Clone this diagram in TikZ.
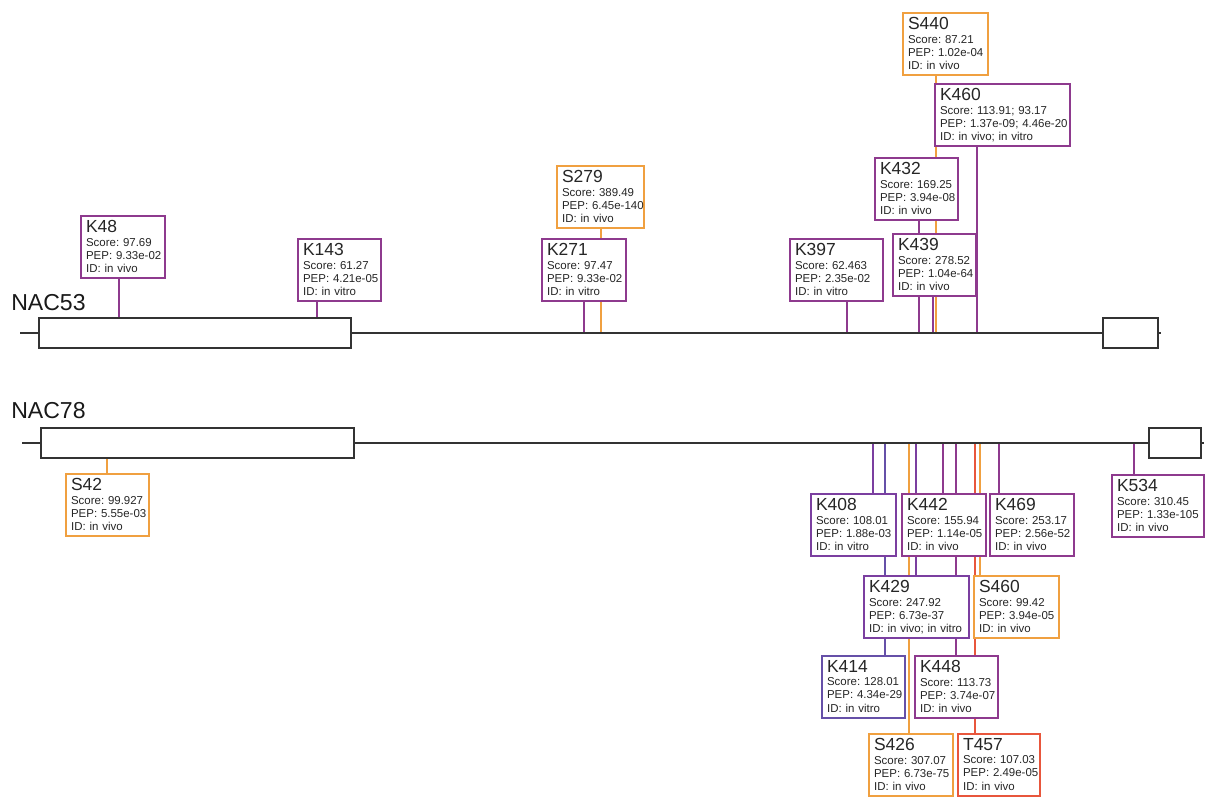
\documentclass[tikz,border=0pt]{standalone}
\usepackage{fontspec}
\setmainfont{Liberation Sans}
\frenchspacing
\pgfdeclarelayer{bg}
\pgfsetlayers{bg,main}
\definecolor{pur}{HTML}{8E3A8E}
\definecolor{vio}{HTML}{7B3FA0}
\definecolor{blu}{HTML}{6650A8}
\definecolor{org}{HTML}{F0A040}
\definecolor{rdl}{HTML}{E8563C}
\definecolor{bb}{HTML}{333333}
\newcommand{\sitetext}[4]{\mbox{\fontsize{13.1}{14}\selectfont #1}\\[0.6pt]\mbox{Score: #2}\\\mbox{PEP: #3}\\\mbox{ID: #4}\rule[-1.7pt]{0pt}{0pt}}
\tikzset{
  site/.style={draw=#1, line width=1.5pt, fill=white, anchor=north west, align=left,
    inner xsep=3.8pt, inner ysep=3pt, font=\fontsize{8.6}{9.8}\selectfont\frenchspacing, text=black!85},
  con/.style={draw=#1, line width=1.4pt},
  exon/.style={draw=bb, line width=1.5pt, fill=white, inner sep=0pt},
  bbone/.style={draw=bb, line width=1.5pt},
  genelabel/.style={anchor=base west, inner sep=0pt, font=\fontsize{17.3}{19}\selectfont, text=black!90}
}
\begin{document}
\begin{tikzpicture}[x=0.75pt,y=-0.75pt]
\useasboundingbox (0,0) rectangle (1206,798);
% ---------------- NAC53 ----------------
\node[genelabel] (lab53) at (11,311) {NAC53};
\coordinate (s53) at (20,333);
\coordinate (e53) at (1161,333);
\node[exon, minimum width=234pt, minimum height=22.5pt] (x53a) at (195,333) {};
\node[exon, minimum width=41.25pt, minimum height=22.5pt] (x53b) at (1130.5,333) {};
\draw[bbone] (s53) -- (x53a.west) (x53a.east) -- (x53b.west) (x53b.east) -- (e53);

\node[site=pur, text width=55.4pt] (K48) at (80,215) {\sitetext{K48}{97.69}{9.33e-02}{in vivo}};
\node[site=pur, text width=54.65pt] (K143) at (297,238) {\sitetext{K143}{61.27}{4.21e-05}{in vitro}};
\node[site=org, text width=57.65pt] (S279) at (556,165) {\sitetext{S279}{389.49}{6.45e-140}{in vivo}};
\node[site=pur, text width=55.4pt] (K271) at (541,238) {\sitetext{K271}{97.47}{9.33e-02}{in vitro}};
\node[site=pur, text width=62.15pt] (K397) at (789,238) {\sitetext{K397}{62.463}{2.35e-02}{in vitro}};
\node[site=org, text width=56.15pt] (S440) at (902,12) {\sitetext{S440}{87.21}{1.02e-04}{in vivo}};
\node[site=pur, text width=93.65pt] (K460) at (934,83) {\sitetext{K460}{113.91; 93.17}{1.37e-09; 4.46e-20}{in vivo; in vitro}};
\node[site=pur, text width=54.65pt] (K432) at (874,157) {\sitetext{K432}{169.25}{3.94e-08}{in vivo}};
\node[site=pur, text width=54.65pt] (K439) at (892,233) {\sitetext{K439}{278.52}{1.04e-64}{in vivo}};

\coordinate (c48) at (119,333);
\coordinate (c143) at (317,333);
\coordinate (c271) at (584,333);
\coordinate (c279) at (601,333);
\coordinate (c397) at (847,333);
\coordinate (c432) at (919,333);
\coordinate (c439) at (933,333);
\coordinate (c440) at (936,333);
\coordinate (c460) at (977,333);

% ---------------- NAC78 ----------------
\node[genelabel] (lab78) at (11,418) {NAC78};
\coordinate (s78) at (22,443);
\coordinate (e78) at (1204,443);
\node[exon, minimum width=234.75pt, minimum height=22.5pt] (x78a) at (197.5,443) {};
\node[exon, minimum width=39pt, minimum height=22.5pt] (x78b) at (1175,443) {};
\draw[bbone] (s78) -- (x78a.west) (x78a.east) -- (x78b.west) (x78b.east) -- (e78);

\node[site=org, text width=54.65pt] (S42) at (65,473) {\sitetext{S42}{99.927}{5.55e-03}{in vivo}};
\node[site=pur, text width=61.4pt] (K534) at (1111,474) {\sitetext{K534}{310.45}{1.33e-105}{in vivo}};
\node[site=vio, text width=56.15pt] (K408) at (810,493) {\sitetext{K408}{108.01}{1.88e-03}{in vitro}};
\node[site=pur, text width=55.4pt] (K442) at (901,493) {\sitetext{K442}{155.94}{1.14e-05}{in vivo}};
\node[site=pur, text width=55.4pt] (K469) at (989,493) {\sitetext{K469}{253.17}{2.56e-52}{in vivo}};
\node[site=vio, text width=71.15pt] (K429) at (863,575) {\sitetext{K429}{247.92}{6.73e-37}{in vivo; in vitro}};
\node[site=org, text width=56.15pt] (S460) at (973,575) {\sitetext{S460}{99.42}{3.94e-05}{in vivo}};
\node[site=blu, text width=54.65pt] (K414) at (821,655) {\sitetext{K414}{128.01}{4.34e-29}{in vitro}};
\node[site=pur, text width=54.65pt] (K448) at (914,655) {\sitetext{K448}{113.73}{3.74e-07}{in vivo}};
\node[site=org, text width=55.4pt] (S426) at (868,733) {\sitetext{S426}{307.07}{6.73e-75}{in vivo}};
\node[site=rdl, text width=53.9pt] (T457) at (957,733) {\sitetext{T457}{107.03}{2.49e-05}{in vivo}};

\coordinate (c42) at (107,443);
\coordinate (c534) at (1134,443);
\coordinate (c408) at (873,443);
\coordinate (c414) at (885,443);
\coordinate (c426) at (909,443);
\coordinate (c429) at (916,443);
\coordinate (c442) at (943,443);
\coordinate (c448) at (956,443);
\coordinate (c457) at (975,443);
\coordinate (c460b) at (980,443);
\coordinate (c469) at (999,443);

\begin{pgfonlayer}{bg}
  \draw[con=pur] (K48.south -| c48) -- (c48);
  \draw[con=pur] (K143.south -| c143) -- (c143);
  \draw[con=pur] (K271.south -| c271) -- (c271);
  \draw[con=org] (S279.south -| c279) -- (c279);
  \draw[con=pur] (K397.south -| c397) -- (c397);
  \draw[con=pur] (K432.south -| c432) -- (c432);
  \draw[con=pur] (K439.south -| c439) -- (c439);
  \draw[con=org] (S440.south -| c440) -- (c440);
  \draw[con=pur] (K460.south -| c460) -- (c460);

  \draw[con=org] (c42) -- (S42.north -| c42);
  \draw[con=pur] (c534) -- (K534.north -| c534);
  \draw[con=vio] (c408) -- (K408.north -| c408);
  \draw[con=blu] (c414) -- (K414.north -| c414);
  \draw[con=org] (c426) -- (S426.north -| c426);
  \draw[con=vio] (c429) -- (K429.north -| c429);
  \draw[con=pur] (c442) -- (K442.north -| c442);
  \draw[con=pur] (c448) -- (K448.north -| c448);
  \draw[con=rdl] (c457) -- (T457.north -| c457);
  \draw[con=org] (c460b) -- (S460.north -| c460b);
  \draw[con=pur] (c469) -- (K469.north -| c469);
\end{pgfonlayer}
\end{tikzpicture}
\end{document}
